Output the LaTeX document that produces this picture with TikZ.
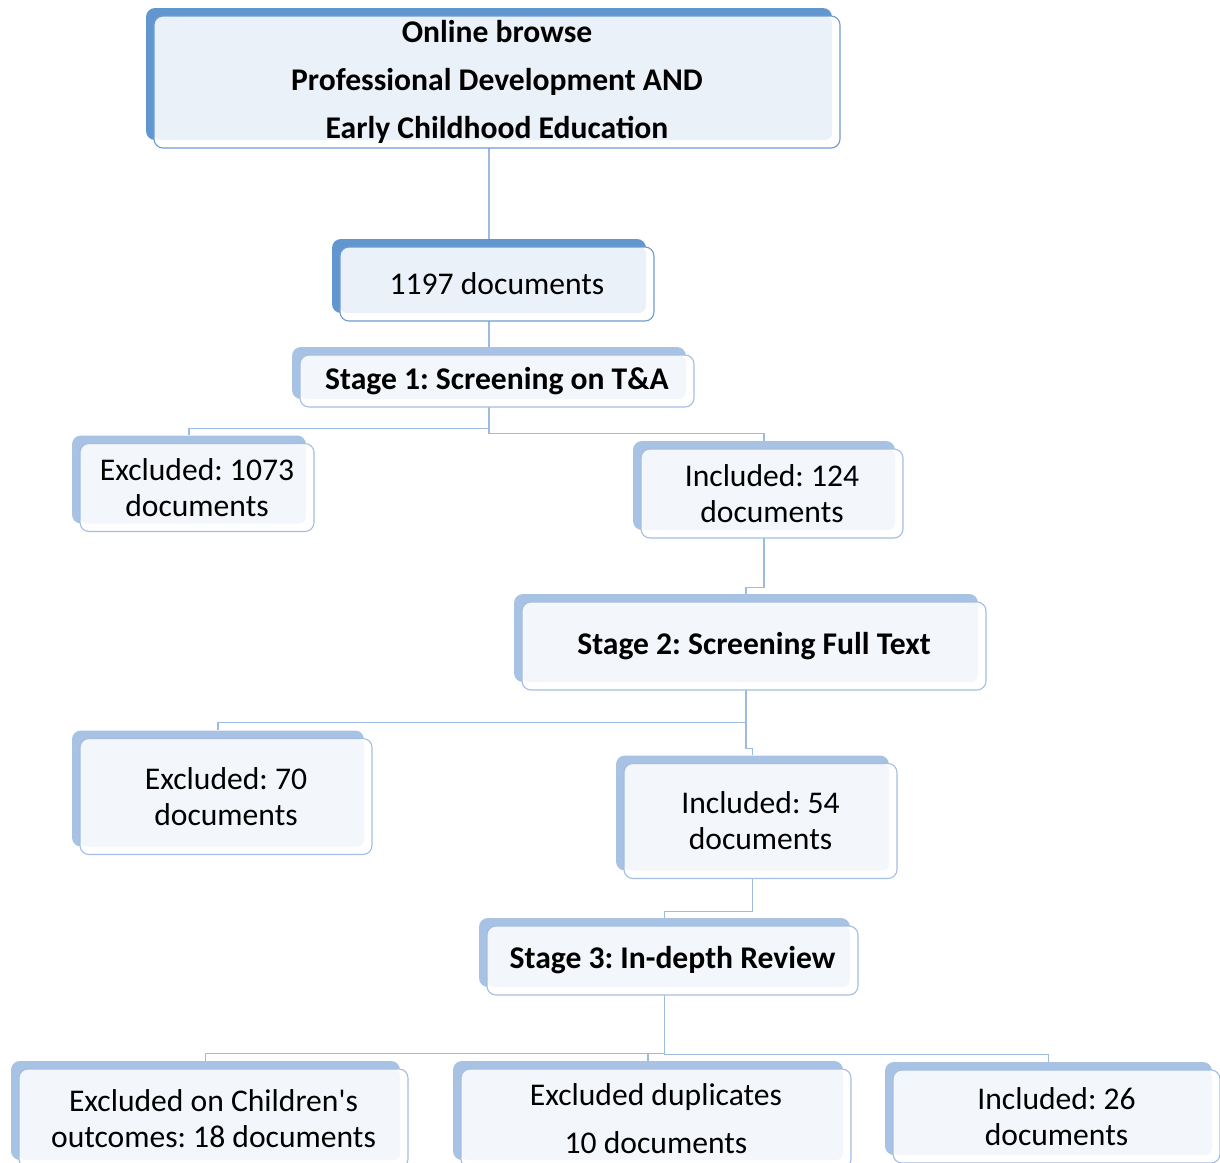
\documentclass[tikz,border=0pt]{standalone}
\usepackage{fontspec}
\setmainfont{Carlito}
\frenchspacing
\usetikzlibrary{calc,backgrounds}
\definecolor{darkback}{HTML}{6296CE}
\definecolor{darkline}{HTML}{6F9BD3}
\definecolor{darkfill}{HTML}{EBF1F9}
\definecolor{lightback}{HTML}{A8C2E4}
\definecolor{lightline}{HTML}{A3BEE2}
\definecolor{lightfill}{HTML}{F3F6FB}
\definecolor{connc}{HTML}{9DBBE0}
\tikzset{
  backbox/.style={rounded corners=9pt, inner sep=0pt, fill=#1back, draw=none},
  frontbox/.style={rounded corners=9pt, inner sep=0pt, fill=white, draw=#1line,
    line width=1.1pt, align=center, font=\fontsize{31.6}{36}\selectfont,
    path picture={\fill[#1fill, rounded corners=7pt]
      (path picture bounding box.north west) rectangle
      ([shift={(-8,-8)}]path picture bounding box.south east);}},
  conn/.style={draw=connc, line width=1.1pt}
}
\newcommand\flowbox[7]{%
  \node[backbox=#6, minimum width=#4pt, minimum height=#5pt] (#1b) at (#2,#3) {};
  \node[frontbox=#6, minimum width=#4pt, minimum height=#5pt] (#1) at ($(#1b.center)+(8,8)$) {#7};
}
\begin{document}
\begin{tikzpicture}[x=1pt,y=-1pt]
\useasboundingbox (0,0) rectangle (1220,1162);
\flowbox{top}{489}{74}{686}{132}{dark}{\bfseries Online browse\\[12pt]\bfseries Professional Development AND\\[12pt]\bfseries Early Childhood Education}
\flowbox{nall}{489}{276}{314}{74}{dark}{1197 documents}
\flowbox{sa}{489}{373}{394}{52}{light}{\bfseries Stage 1: Screening on T\&A}
\flowbox{exa}{189}{479.5}{234}{88}{light}{Excluded: 1073\\documents}
\flowbox{ina}{764}{485.5}{262}{89}{light}{Included: 124\\documents}
\flowbox{sb}{746}{638}{464}{88}{light}{\bfseries Stage 2: Screening Full Text}
\flowbox{exb}{218}{788.5}{292}{116}{light}{Excluded: 70\\documents}
\flowbox{inb}{752.5}{813}{273}{115}{light}{Included: 54\\documents}
\flowbox{sc}{664.5}{952.5}{371}{69}{light}{\bfseries Stage 3: In-depth Review}
\flowbox{exc}{205.5}{1110.5}{389}{99}{light}{Excluded on Children\textquotesingle s\\outcomes: 18 documents}
\flowbox{dup}{648}{1110.5}{390}{99}{light}{Excluded duplicates\\[12pt]10 documents}
\flowbox{inc}{1048.5}{1108.5}{327}{93}{light}{Included: 26\\documents}
\begin{scope}[on background layer]
\draw[conn] (topb.south) -- (nallb.north);
\draw[conn] (nallb.south) -- (sab.north);
\draw[conn] (sab.south) -- ++(0,29) -| (exab.north);
\draw[conn] (sab.south) -- ++(0,34) -| (inab.north);
\draw[conn] (inab.south) -- ++(0,57) -| (sbb.north);
\draw[conn] (sbb.south) -- ++(0,40) -| (exbb.north);
\draw[conn] (sbb.south) -- ++(0,66) -| (inbb.north);
\draw[conn] (inbb.south) -- ++(0,41) -| (scb.north);
\draw[conn] (scb.south) -- ++(0,66) -| (excb.north);
\draw[conn] (scb.south) -- ++(0,66) -| (dupb.north);
\draw[conn] (scb.south) -- ++(0,67) -| (incb.north);
\end{scope}
\end{tikzpicture}
\end{document}
